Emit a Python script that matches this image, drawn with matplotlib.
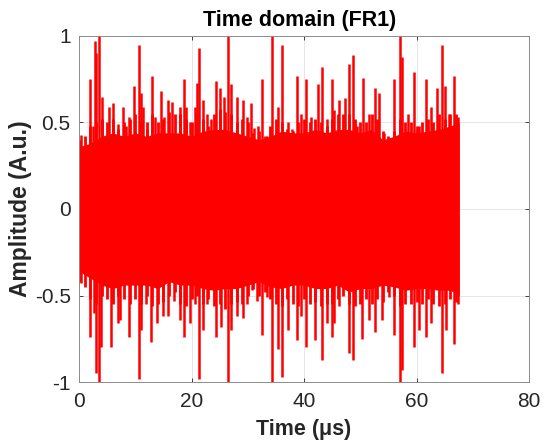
import matplotlib.pyplot as plt

plt.rcParams['font.family'] = ['Liberation Sans', 'DejaVu Sans']

# dense core of the signal (solid part, every ~2 us)
core_t = [0, 2, 4, 6, 8, 10, 12, 14, 16, 18, 20, 22, 24, 26, 28, 30, 32, 34,
          36, 38, 40, 42, 44, 46, 48, 50, 52, 54, 56, 58, 60, 62, 64, 66, 67.6]
core_hi = [0.36, 0.38, 0.42, 0.44, 0.42, 0.44, 0.42, 0.44, 0.44, 0.44, 0.42, 0.45, 0.46, 0.46, 0.44,
           0.42, 0.40, 0.42, 0.45, 0.44, 0.44, 0.46, 0.44, 0.46, 0.46, 0.44, 0.46, 0.40, 0.42, 0.45,
           0.44, 0.45, 0.46, 0.48, 0.50]
core_lo = [-0.36, -0.40, -0.44, -0.46, -0.44, -0.44, -0.44, -0.46, -0.42, -0.44, -0.44, -0.46, -0.47,
           -0.46, -0.46, -0.44, -0.42, -0.45, -0.46, -0.44, -0.44, -0.46, -0.46, -0.44, -0.48, -0.46,
           -0.46, -0.44, -0.45, -0.47, -0.46, -0.46, -0.47, -0.47, -0.50]

# ragged band around the core, one value per microsecond
band_t = list(range(68))
band_hi = [0.40, 0.42, 0.48, 0.50, 0.52, 0.50, 0.52, 0.46, 0.50, 0.52, 0.55, 0.50,
           0.50, 0.55, 0.50, 0.52, 0.56, 0.55, 0.55, 0.52, 0.50, 0.55, 0.52,
           0.48, 0.55, 0.58, 0.56, 0.55, 0.50, 0.52, 0.50, 0.44, 0.45, 0.42,
           0.48, 0.52, 0.50, 0.46, 0.45, 0.50, 0.52, 0.50, 0.52, 0.50, 0.48, 0.52,
           0.55, 0.55, 0.55, 0.52, 0.50, 0.50, 0.55, 0.52, 0.45, 0.42, 0.45,
           0.52, 0.50, 0.50, 0.48, 0.50, 0.52, 0.50, 0.55, 0.52, 0.55, 0.55]
band_lo = [-0.42, -0.45, -0.52, -0.55, -0.50, -0.52, -0.55, -0.50, -0.52, -0.55, -0.52, -0.55,
           -0.50, -0.56, -0.55, -0.54, -0.50, -0.48, -0.55, -0.56, -0.52, -0.50, -0.55,
           -0.52, -0.56, -0.55, -0.58, -0.55, -0.54, -0.55, -0.50, -0.46, -0.50, -0.48,
           -0.52, -0.55, -0.56, -0.52, -0.55, -0.56, -0.52, -0.55, -0.54, -0.56, -0.55, -0.55,
           -0.52, -0.50, -0.55, -0.56, -0.55, -0.52, -0.55, -0.52, -0.54, -0.48, -0.50,
           -0.56, -0.55, -0.55, -0.54, -0.55, -0.52, -0.55, -0.56, -0.55, -0.52, -0.54]

# tall peaks above the band
up_t = [0.4, 2.0, 2.4, 2.9, 3.1, 3.5, 4.0, 5.4, 6.0, 6.9, 7.8, 8.4, 8.9, 9.8, 10.6, 11.0,
        11.4, 12.0, 12.9, 13.5, 14.5, 15.1, 15.9, 16.5, 17.9, 18.7, 19.1, 19.8, 20.6, 21.0, 21.4, 22.0,
        22.8, 23.4, 24.3, 25.1, 25.8, 26.4, 27.1, 28.0, 29.2, 29.9, 30.5, 31.1, 31.8, 32.5, 33.5,
        34.3, 35.4, 36.1, 37.2, 37.9, 38.8, 39.5, 40.4, 41.3, 42.5, 43.2, 44.0, 45.0,
        45.3, 46.2, 47.2, 48.0, 48.7, 49.4, 50.4, 51.5, 52.6, 53.3, 54.3, 55.2, 56.0,
        57.1, 57.4, 58.4, 59.6, 60.5, 61.7, 62.6, 63.6, 64.5, 65.1, 65.8, 66.7, 67.3]
up_v = [0.43, 0.75, 0.48, 0.97, 0.90, 1.0, 0.65, 0.59, 0.61, 0.49, 0.59, 0.48, 0.53, 0.71, 0.95, 0.67,
        0.59, 0.46, 0.77, 0.53, 0.68, 0.53, 0.63, 0.62, 0.59, 0.75, 0.59, 0.50, 0.59, 0.73, 0.93, 0.63,
        0.55, 0.52, 0.74, 0.70, 0.65, 1.0, 0.72, 0.65, 0.63, 0.53, 0.61, 0.47, 0.48, 0.75, 0.42,
        1.0, 0.59, 0.95, 0.50, 0.46, 0.77, 0.55, 0.75, 0.53, 0.72, 0.82, 0.52, 0.75,
        0.57, 0.63, 0.64, 0.84, 0.89, 0.48, 0.76, 0.55, 0.70, 0.67, 0.44, 0.40, 0.75,
        1.0, 0.88, 0.55, 0.79, 0.48, 0.75, 0.59, 0.70, 0.95, 0.71, 0.55, 0.77, 0.53]

# tall peaks below the band
lo_t = [0.4, 2.0, 2.7, 3.1, 3.5, 3.9, 5.7, 6.9, 7.2, 8.9, 10.7, 11.1,
        11.9, 12.8, 13.8, 15.0, 15.9, 16.8, 18.0, 18.7, 19.7, 20.6, 21.4, 22.0,
        22.8, 24.3, 25.2, 26.4, 27.1, 28.1, 29.2, 29.9, 30.8, 31.7, 32.5, 33.5,
        34.3, 35.4, 36.1, 37.2, 38.8, 39.5, 40.4, 41.9, 43.2, 44.1, 44.9,
        45.3, 46.2, 48.0, 48.7, 50.3, 51.5, 52.7, 53.9, 55.1, 56.0,
        57.1, 57.4, 59.6, 60.5, 61.7, 62.6, 64.5, 65.2, 66.7, 67.3]
lo_v = [-0.43, -0.74, -0.60, -0.95, -1.0, -0.80, -0.80, -0.66, -0.64, -0.74, -0.98, -0.70,
        -0.55, -0.77, -0.66, -0.62, -0.62, -0.53, -0.64, -0.74, -0.66, -0.55, -0.98, -0.70,
        -0.55, -0.74, -0.68, -1.0, -0.70, -0.62, -0.63, -0.55, -0.47, -0.53, -0.73, -0.51,
        -1.0, -0.81, -0.97, -0.70, -0.76, -0.62, -0.80, -0.76, -0.87, -0.66, -0.74,
        -0.66, -0.56, -0.83, -0.87, -0.75, -0.64, -0.71, -0.64, -0.51, -0.73,
        -1.0, -0.93, -0.80, -0.70, -0.74, -0.66, -0.95, -0.70, -0.78, -0.55]

x_ticks = [0, 20, 40, 60, 80]
y_ticks = [-1, -0.5, 0, 0.5, 1]
y_tick_labels = ['-1', '-0.5', '0', '0.5', '1']

fig = plt.figure(figsize=(5.49, 4.47), dpi=100)
ax = fig.add_axes([0.144, 0.1454, 0.8196, 0.7741])

red = '#ff0000'
ax.fill_between(core_t, core_lo, core_hi, color=red, lw=0, zorder=2)
ax.vlines(band_t, band_lo, band_hi, color=red, lw=2.0, zorder=2)
ax.vlines(up_t, 0, up_v, color=red, lw=1.8, zorder=2)
ax.vlines(lo_t, lo_v, 0, color=red, lw=1.8, zorder=2)

ax.set_xlim(0, 80)
ax.set_ylim(-1, 1)
ax.set_xticks(x_ticks)
ax.set_yticks(y_ticks)
ax.set_yticklabels(y_tick_labels)
ax.grid(True, color='#e6e6e6', lw=0.7, zorder=0)
ax.set_axisbelow(True)
ax.tick_params(direction='in', length=3, width=0.6, labelsize=15, colors='#262626',
               top=True, right=True)
ax.tick_params(axis='x', pad=7)
ax.tick_params(axis='y', pad=6)
for s in ax.spines.values():
    s.set_color('#8c8c8c')
    s.set_linewidth(0.7)

ax.set_title('Time domain (FR1)', fontsize=15.5, fontweight='bold', color='black', pad=7, x=0.49)
ax.set_xlabel('Time (μs)', fontsize=15.5, fontweight='bold', color='#262626', labelpad=6)
ax.set_ylabel('Amplitude (A.u.)', fontsize=16.5, fontweight='bold', color='#262626', labelpad=2)

fig.savefig('out.png', dpi=100)
